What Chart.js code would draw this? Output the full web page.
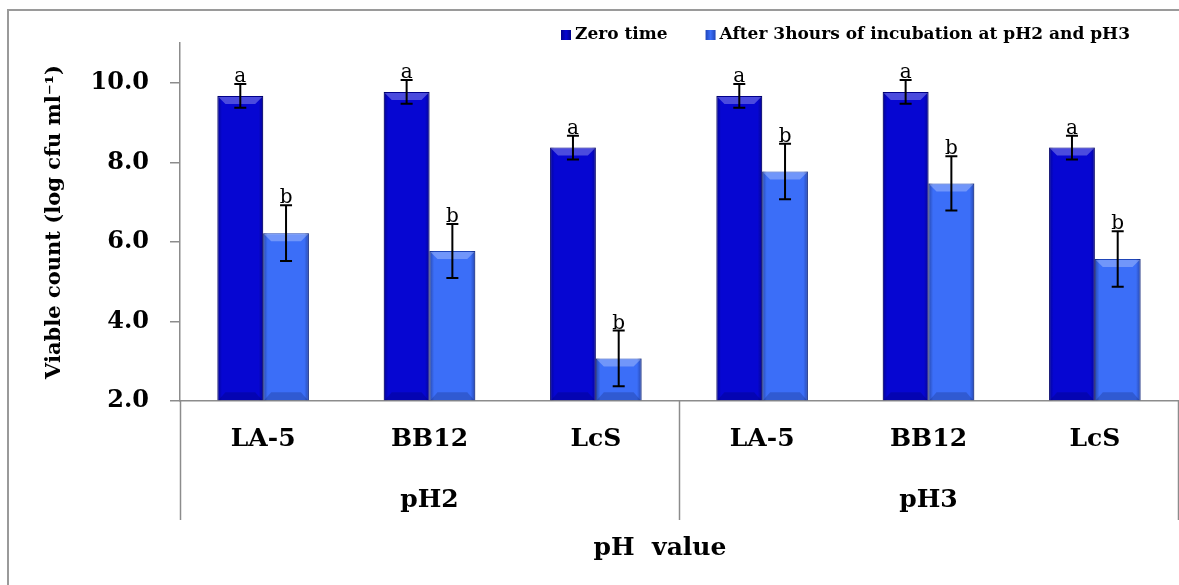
<!DOCTYPE html>
<html>
<head>
<meta charset="utf-8">
<script src="https://cdn.jsdelivr.net/npm/chart.js@4"></script>
<style>
  html, body { margin: 0; padding: 0; background: #fff; }
</style>
</head>
<body>
<canvas id="barChart" width="1179" height="585"></canvas>
<script>
// strains tested at each pH
const strains = ['LA-5', 'BB12', 'LcS', 'LA-5', 'BB12', 'LcS'];
const phGroups = ['pH2', 'pH3'];

// log cfu/ml, mean and error
const zeroTime = [9.67, 9.77, 8.37, 9.67, 9.77, 8.37];
const zeroTimeErr = [0.3, 0.3, 0.3, 0.3, 0.3, 0.3];
const afterIncubation = [6.22, 5.77, 3.07, 7.77, 7.47, 5.57];
const afterIncubationErr = [0.7, 0.68, 0.7, 0.7, 0.68, 0.7];

// significance letters over each bar
const zeroTimeLetters = ['a', 'a', 'a', 'a', 'a', 'a'];
const afterLetters = ['b', 'b', 'b', 'b', 'b', 'b'];

const yTicks = [2, 4, 6, 8, 10];
const yMin = 2;
const yMax = 11;

const SERIF = '"DejaVu Serif", serif';
const AXIS_GRAY = '#8c8c8c';

const errs = [zeroTimeErr, afterIncubationErr];
const letters = [zeroTimeLetters, afterLetters];

// shading, error bars, letters, grouped labels and legend
const decorations = {
  id: 'decorations',
  afterDatasetsDraw(chart) {
    const ctx = chart.ctx;
    const yScale = chart.scales.y;
    chart.data.datasets.forEach((ds, i) => {
      const meta = chart.getDatasetMeta(i);
      meta.data.forEach((bar, j) => {
        const { x, y, base, width } = bar.getProps(['x', 'y', 'base', 'width'], true);
        const left = x - width / 2, right = x + width / 2;
        ctx.save();
        const g = ctx.createLinearGradient(left, 0, right, 0);
        g.addColorStop(0, 'rgba(0,0,40,0.35)');
        g.addColorStop(0.1, 'rgba(0,0,40,0)');
        g.addColorStop(0.9, 'rgba(0,0,40,0)');
        g.addColorStop(1, 'rgba(0,0,40,0.35)');
        ctx.fillStyle = g;
        ctx.fillRect(left, y, width, base - y);
        const b = 8;
        ctx.fillStyle = 'rgba(255,255,255,0.28)';
        ctx.beginPath();
        ctx.moveTo(left + 1, y + 1);
        ctx.lineTo(right - 1, y + 1);
        ctx.lineTo(right - b, y + b);
        ctx.lineTo(left + b, y + b);
        ctx.closePath();
        ctx.fill();
        ctx.fillStyle = 'rgba(0,0,40,0.18)';
        ctx.beginPath();
        ctx.moveTo(left + 1, base);
        ctx.lineTo(right - 1, base);
        ctx.lineTo(right - b, base - b);
        ctx.lineTo(left + b, base - b);
        ctx.closePath();
        ctx.fill();
        ctx.restore();

        // error bar
        const v = ds.data[j], e = errs[i][j];
        const yHi = yScale.getPixelForValue(v + e);
        const yLo = yScale.getPixelForValue(v - e);
        ctx.save();
        ctx.strokeStyle = '#000';
        ctx.lineWidth = 2;
        ctx.beginPath();
        ctx.moveTo(x, yHi); ctx.lineTo(x, yLo);
        ctx.moveTo(x - 6, yHi); ctx.lineTo(x + 6, yHi);
        ctx.moveTo(x - 6, yLo); ctx.lineTo(x + 6, yLo);
        ctx.stroke();
        ctx.fillStyle = '#000';
        ctx.font = '20px ' + SERIF;
        ctx.textAlign = 'center';
        ctx.textBaseline = 'alphabetic';
        ctx.fillText(letters[i][j], x, yHi - 2);
        ctx.restore();
      });
    });
  },
  afterDraw(chart) {
    const ctx = chart.ctx;
    const xScale = chart.scales.x;
    const area = chart.chartArea;
    const perGroup = strains.length / phGroups.length;
    ctx.save();

    // outer frame
    ctx.strokeStyle = '#9a9a9a';
    ctx.lineWidth = 2;
    ctx.beginPath();
    ctx.moveTo(8, chart.height);
    ctx.lineTo(8, 10);
    ctx.lineTo(chart.width, 10);
    ctx.stroke();

    // group separators and pH labels
    const half = (xScale.getPixelForValue(1) - xScale.getPixelForValue(0)) / 2;
    ctx.strokeStyle = AXIS_GRAY;
    ctx.lineWidth = 1.5;
    for (let k = 0; k <= phGroups.length; k++) {
      const idx = Math.min(k * perGroup, strains.length - 1);
      const sx = xScale.getPixelForValue(idx) + (k * perGroup >= strains.length ? half : -half);
      ctx.beginPath();
      ctx.moveTo(Math.round(sx) + 0.5, area.bottom);
      ctx.lineTo(Math.round(sx) + 0.5, 520);
      ctx.stroke();
    }
    ctx.fillStyle = '#000';
    ctx.font = 'bold 25px ' + SERIF;
    ctx.textAlign = 'center';
    ctx.textBaseline = 'middle';
    phGroups.forEach((g, k) => {
      const a = xScale.getPixelForValue(k * perGroup) - half;
      const c = xScale.getPixelForValue((k + 1) * perGroup - 1) + half;
      ctx.fillText(g, (a + c) / 2, 500);
    });
    ctx.fillText('pH  value', 660, 548);

    // legend
    ctx.font = 'bold 17px ' + SERIF;
    ctx.textAlign = 'left';
    let lx = 561;
    chart.data.datasets.forEach(ds => {
      const g = ctx.createLinearGradient(lx, 0, lx + 10, 0);
      g.addColorStop(0, ds.borderColor);
      g.addColorStop(0.5, ds.backgroundColor);
      g.addColorStop(1, ds.borderColor);
      ctx.fillStyle = g;
      ctx.fillRect(lx, 30, 10, 10);
      ctx.fillStyle = '#000';
      ctx.fillText(ds.label, lx + 14, 35);
      lx += 14 + ctx.measureText(ds.label).width + 38;
    });
    ctx.restore();
  }
};

new Chart(document.getElementById('barChart'), {
  type: 'bar',
  data: {
    labels: strains,
    datasets: [{
      label: 'Zero time',
      data: zeroTime,
      base: yMin,
      backgroundColor: '#0606d2',
      borderColor: '#00008a',
      borderWidth: 1
    }, {
      label: 'After 3hours of incubation at pH2 and pH3',
      data: afterIncubation,
      base: yMin,
      backgroundColor: '#3b6ef8',
      borderColor: '#1f45b8',
      borderWidth: 1
    }]
  },
  options: {
    responsive: false,
    animation: false,
    layout: { padding: { top: 43, right: 1, left: 0, bottom: 0 } },
    categoryPercentage: 0.55,
    barPercentage: 1.0,
    plugins: {
      legend: { display: false },
      tooltip: { enabled: false }
    },
    scales: {
      x: {
        grid: { display: false },
        border: { color: AXIS_GRAY, width: 1.5 },
        ticks: {
          color: '#000',
          font: { family: SERIF, size: 25, weight: 'bold' },
          padding: 15,
          maxRotation: 0,
          autoSkip: false
        },
        afterFit(scale) { scale.height = 184; }
      },
      y: {
        min: yMin,
        max: yMax,
        beginAtZero: false,
        afterBuildTicks(scale) { scale.ticks = yTicks.map(v => ({ value: v })); },
        grid: { drawOnChartArea: false, tickLength: 10, color: AXIS_GRAY, lineWidth: 1.5 },
        border: { color: AXIS_GRAY, width: 1.5 },
        ticks: {
          color: '#000',
          font: { family: SERIF, size: 24, weight: 'bold' },
          padding: 21,
          callback: v => v.toFixed(1)
        },
        title: {
          display: true,
          text: 'Viable count (log cfu ml\u207B\u00B9)',
          color: '#000',
          font: { family: SERIF, size: 21, weight: 'bold' },
          padding: { top: 42, bottom: 0 }
        },
        afterFit(scale) { scale.width = 180; }
      }
    }
  },
  plugins: [decorations]
});
</script>
</body>
</html>
